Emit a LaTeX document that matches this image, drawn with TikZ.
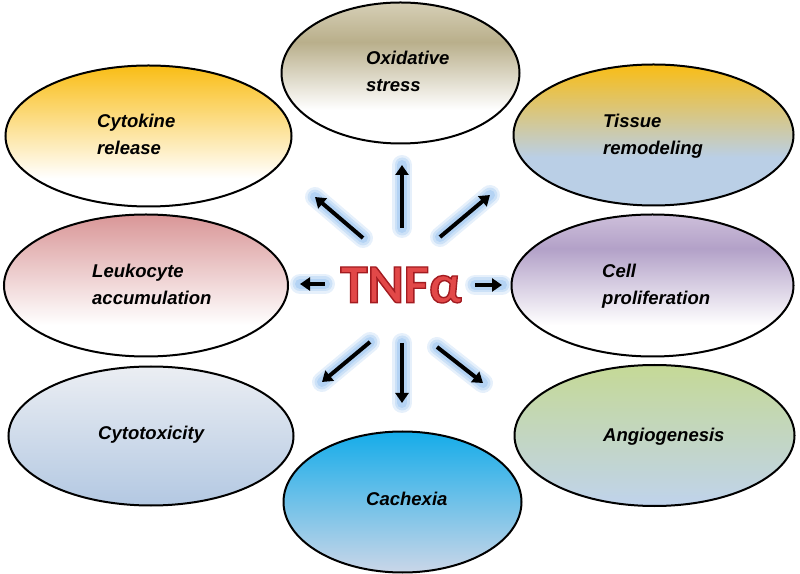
\documentclass[tikz,border=0pt]{standalone}
\usepackage{fontspec}
\setmainfont{Liberation Sans}
\newfontfamily\tnffont{Carlito}
\usetikzlibrary{shapes.geometric,arrows.meta,calc}

\definecolor{tnfred}{HTML}{E24848}
\definecolor{glowblue}{HTML}{9CC5F0}
\definecolor{oxtop}{HTML}{D6CFB6}
\definecolor{oxmid}{HTML}{B9AF8B}
\definecolor{gold}{HTML}{F9BD15}
\definecolor{tisblue}{HTML}{BACFE6}
\definecolor{leutop}{HTML}{D99697}
\definecolor{celtop}{HTML}{CDBFDA}
\definecolor{celmid}{HTML}{B3A1C8}
\definecolor{ctxtop}{HTML}{EBEEF3}
\definecolor{ctxbot}{HTML}{B3C8E2}
\definecolor{angtop}{HTML}{C5D996}
\definecolor{angbot}{HTML}{C0D3EC}
\definecolor{cactop}{HTML}{15ACE9}
\definecolor{cacbot}{HTML}{CAD6E8}

% outlined red text (fill + stroke)
\newcommand{\outlined}[1]{{\color{tnfred}\special{pdf:code q 2 Tr 1.4 w 0.64 0.11 0.13 RG}#1\special{pdf:code Q}}}

% fills, bottom to top (25bp..75bp cover the ellipse)
\pgfdeclareverticalshading{oxshade}{100bp}{color(0bp)=(white); color(37bp)=(white); color(61bp)=(oxmid); color(75bp)=(oxtop); color(100bp)=(oxtop)}
\pgfdeclareverticalshading{cytshade}{100bp}{color(0bp)=(white); color(35bp)=(white); color(75bp)=(gold); color(100bp)=(gold)}
\pgfdeclareverticalshading{tisshade}{100bp}{color(0bp)=(tisblue); color(42bp)=(tisblue); color(75bp)=(gold); color(100bp)=(gold)}
\pgfdeclareverticalshading{leushade}{100bp}{color(0bp)=(white); color(36bp)=(white); color(75bp)=(leutop); color(100bp)=(leutop)}
\pgfdeclareverticalshading{celshade}{100bp}{color(0bp)=(white); color(36bp)=(white); color(63bp)=(celmid); color(75bp)=(celtop); color(100bp)=(celtop)}
\pgfdeclareverticalshading{ctxshade}{100bp}{color(0bp)=(ctxbot); color(25bp)=(ctxbot); color(75bp)=(ctxtop); color(100bp)=(ctxtop)}
\pgfdeclareverticalshading{angshade}{100bp}{color(0bp)=(angbot); color(25bp)=(angbot); color(75bp)=(angtop); color(100bp)=(angtop)}
\pgfdeclareverticalshading{cacshade}{100bp}{color(0bp)=(cacbot); color(25bp)=(cacbot); color(75bp)=(cactop); color(100bp)=(cactop)}

\begin{document}
\begin{tikzpicture}[x=1pt, y=1pt,
    blob/.style={draw, ellipse, shade, line width=2pt, inner sep=0pt, minimum width=284pt, minimum height=141pt},
    small/.style={minimum width=238pt},
    lbl/.style={anchor=base west, align=left, inner sep=0pt, font=\fontsize{18.5}{27}\selectfont\bfseries\itshape},
    glow/.style={glowblue, line cap=round},
    arr/.style={-{Triangle[length=10pt,width=13pt]}, line width=4pt}]
  \useasboundingbox (0,0) rectangle (800,573);
  \node[font=\tnffont\bfseries\fontsize{55}{60}\selectfont, inner sep=0pt] (tnf) at (401,288) {\outlined{TNFα}};

  % arrows out of TNF
  \foreach \sx/\sy/\ex/\ey [count=\i] in {1/57/1/120, -38/47/-86/88, 39/48/89/90, -76/1/-101/1, 74/0/101/0, -31/-57/-79/-97, 1/-58/1/-118, 36/-62/82/-98} {
    \coordinate (s\i) at ($(tnf.center)+(\sx,\sy)$);
    \coordinate (e\i) at ($(tnf.center)+(\ex,\ey)$);
    \foreach \w/\o in {20/.25, 15/.35, 10/.5}
      \draw[glow, line width=\w pt, opacity=\o] (s\i) -- (e\i);
  }

  \node[blob, small, shading=oxshade] (ox) at (400.5,500) {};
  \node[blob, shading=cytshade, minimum width=286pt] (cyt) at (148.5,437) {};
  \node[blob, shading=tisshade, minimum width=280pt] (tis) at (653.5,438) {};
  \node[blob, shading=leushade, minimum height=142pt] (leu) at (146,287.5) {};
  \node[blob, shading=celshade, minimum height=142pt, minimum width=282pt] (cel) at (652.5,287.5) {};
  \node[blob, shading=ctxshade, minimum width=285pt, minimum height=139pt] (ctx) at (151,137) {};
  \node[blob, shading=angshade, minimum width=280pt] (ang) at (654.5,137.5) {};
  \node[blob, small, shading=cacshade] (cac) at (402.5,71) {};

  \foreach \i in {1,...,8}
    \draw[arr] (s\i) -- (e\i);

  \node[lbl] (oxt) at (366,481) {Oxidative\\stress};
  \node[lbl] (cytt) at (97,418) {Cytokine\\release};
  \node[lbl] (tist) at (603,418) {Tissue\\remodeling};
  \node[lbl] (leut) at (92,268) {Leukocyte\\accumulation};
  \node[lbl] (celt) at (602,268) {Cell\\proliferation};
  \node[lbl] (ctxt) at (98,133) {Cytotoxicity};
  \node[lbl] (angt) at (603,131) {Angiogenesis};
  \node[lbl] (cact) at (366,68) {Cachexia};
\end{tikzpicture}
\end{document}
